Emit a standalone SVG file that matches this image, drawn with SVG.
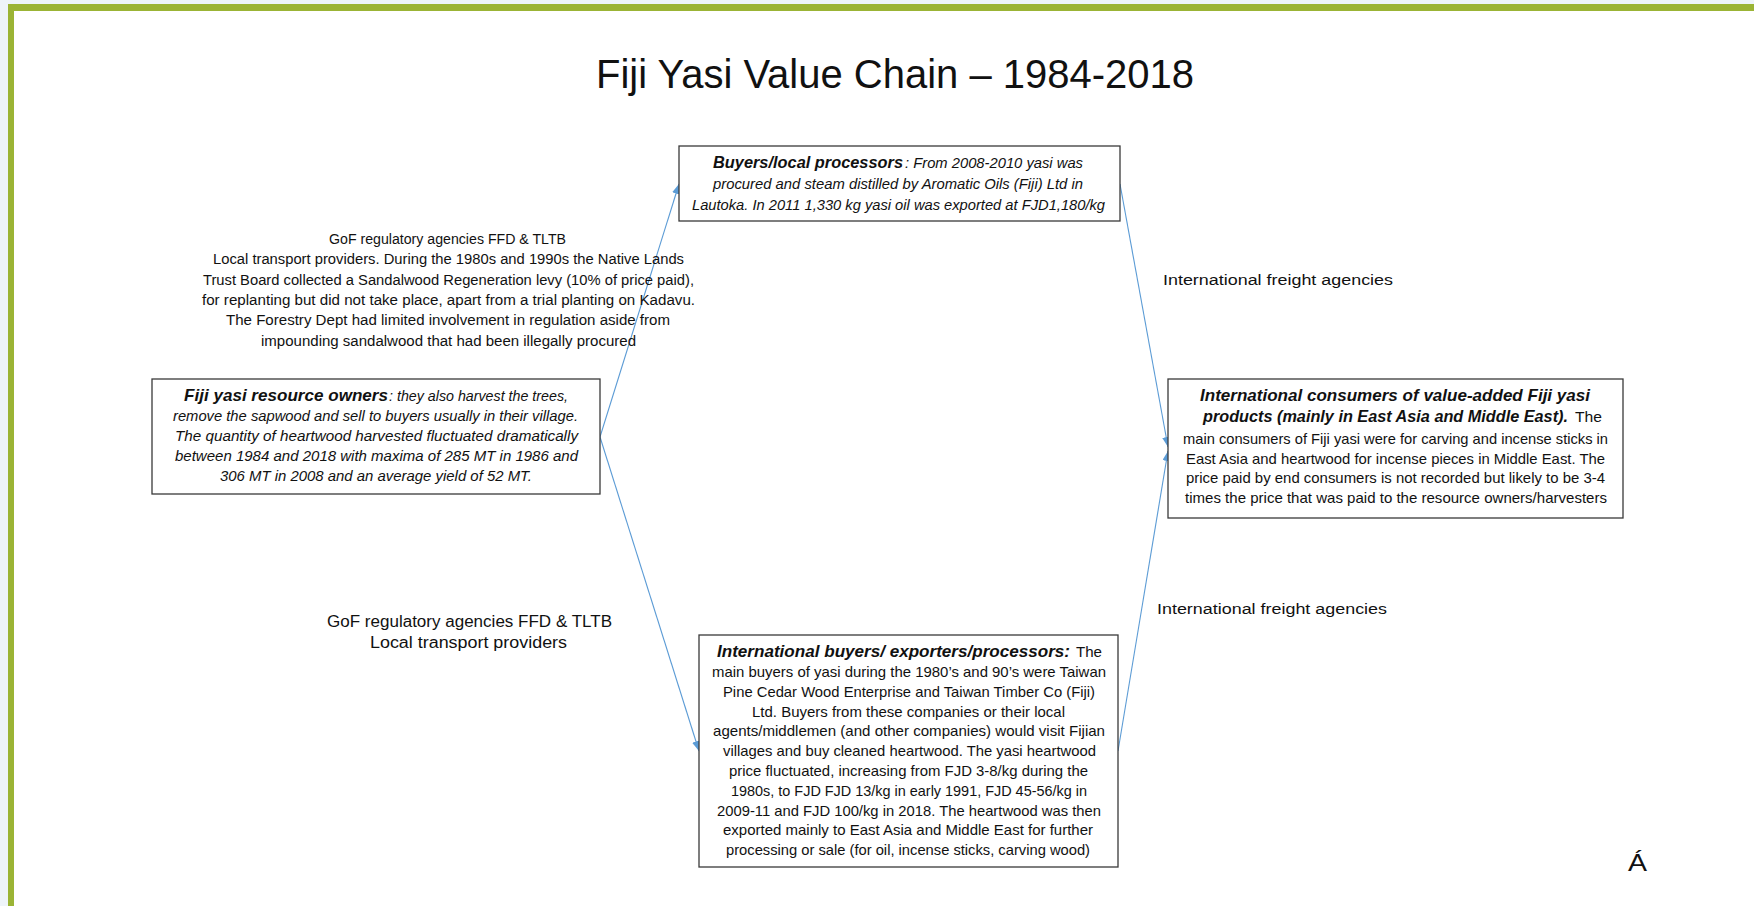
<svg xmlns="http://www.w3.org/2000/svg" width="1754" height="906" viewBox="0 0 1754 906">
<style>
text{font-family:"Liberation Sans",Arial,sans-serif;fill:#111111}
.box{fill:#ffffff;stroke:#3a3a3a;stroke-width:1.3}
.b{font-weight:bold;font-style:italic}
.i{font-style:italic}
.conn{stroke:#5b9bd5;stroke-width:1.1;fill:none;marker-end:url(#ah)}
</style>
<defs>
<marker id="ah" markerUnits="userSpaceOnUse" markerWidth="11" markerHeight="9" refX="10" refY="4" orient="auto">
<path d="M0,0 L10,4 L0,8 z" fill="#5b9bd5"/>
</marker>
</defs>
<rect x="0" y="0" width="1754" height="906" fill="#eef4f9"/>
<rect x="8" y="4" width="1746" height="902" fill="#ffffff"/>
<rect x="8" y="4" width="1746" height="7" fill="#9bb435"/>
<rect x="8" y="4" width="6" height="902" fill="#9bb435"/>

<g id="title">
<text x="596" y="88" font-size="41" textLength="598" lengthAdjust="spacingAndGlyphs">Fiji Yasi Value Chain – 1984-2018</text>
</g>

<g id="connectors">
<line class="conn" x1="600" y1="437" x2="679" y2="184"/>
<line class="conn" x1="600" y1="437" x2="699" y2="751"/>
<line class="conn" x1="1120" y1="184" x2="1168" y2="447"/>
<line class="conn" x1="1118" y1="751" x2="1168" y2="451"/>
</g>

<g id="node-buyers-local">
<rect class="box" x="679" y="146" width="441" height="75"/>
<text class="b" x="713" y="168" font-size="16.5" textLength="190" lengthAdjust="spacingAndGlyphs">Buyers/local processors</text>
<text class="i" x="905" y="168" font-size="14" textLength="178" lengthAdjust="spacingAndGlyphs">: From 2008-2010 yasi was</text>
<text class="i" x="713" y="189" font-size="14" textLength="370" lengthAdjust="spacingAndGlyphs">procured and steam distilled by Aromatic Oils (Fiji) Ltd in</text>
<text class="i" x="692" y="210" font-size="14" textLength="413" lengthAdjust="spacingAndGlyphs">Lautoka. In 2011 1,330 kg yasi oil was exported at FJD1,180/kg</text>
</g>

<g id="label-gof-top">
<text x="329" y="244" font-size="14" textLength="237" lengthAdjust="spacingAndGlyphs">GoF regulatory agencies FFD &amp; TLTB</text>
<text x="213" y="264.3" font-size="14" textLength="471" lengthAdjust="spacingAndGlyphs">Local transport providers. During the 1980s and 1990s the Native Lands</text>
<text x="203" y="284.6" font-size="14" textLength="491" lengthAdjust="spacingAndGlyphs">Trust Board collected a Sandalwood Regeneration levy (10% of price paid),</text>
<text x="202" y="304.9" font-size="14" textLength="493" lengthAdjust="spacingAndGlyphs">for replanting but did not take place, apart from a trial planting on Kadavu.</text>
<text x="226" y="325.2" font-size="14" textLength="444" lengthAdjust="spacingAndGlyphs">The Forestry Dept had limited involvement in regulation aside from</text>
<text x="261" y="345.5" font-size="14" textLength="375" lengthAdjust="spacingAndGlyphs">impounding sandalwood that had been illegally procured</text>
</g>

<g id="node-resource-owners">
<rect class="box" x="152" y="379" width="448" height="115"/>
<text class="b" x="184" y="401" font-size="16.5" textLength="204" lengthAdjust="spacingAndGlyphs">Fiji yasi resource owners</text>
<text class="i" x="389" y="401" font-size="14" textLength="179" lengthAdjust="spacingAndGlyphs">: they also harvest the trees,</text>
<text class="i" x="173" y="421" font-size="14" textLength="405" lengthAdjust="spacingAndGlyphs">remove the sapwood and sell to buyers usually in their village.</text>
<text class="i" x="175" y="441" font-size="14" textLength="403" lengthAdjust="spacingAndGlyphs">The quantity of heartwood harvested fluctuated dramatically</text>
<text class="i" x="175" y="461" font-size="14" textLength="403" lengthAdjust="spacingAndGlyphs">between 1984 and 2018 with maxima of 285 MT in 1986 and</text>
<text class="i" x="220" y="481" font-size="14" textLength="312" lengthAdjust="spacingAndGlyphs">306 MT in 2008 and an average yield of 52 MT.</text>
</g>

<g id="label-freight-top">
<text x="1163" y="285" font-size="15.5" textLength="230" lengthAdjust="spacingAndGlyphs">International freight agencies</text>
</g>

<g id="node-intl-consumers">
<rect class="box" x="1168" y="379" width="455" height="139"/>
<text class="b" x="1200" y="401" font-size="16.5" textLength="390" lengthAdjust="spacingAndGlyphs">International consumers of value-added Fiji yasi</text>
<text class="b" x="1203" y="422" font-size="16.5" textLength="365" lengthAdjust="spacingAndGlyphs">products (mainly in East Asia and Middle East).</text>
<text x="1575" y="422" font-size="15" textLength="27" lengthAdjust="spacingAndGlyphs">The</text>
<text x="1183" y="444" font-size="15" textLength="425" lengthAdjust="spacingAndGlyphs">main consumers of Fiji yasi were for carving and incense sticks in</text>
<text x="1186" y="464" font-size="15" textLength="419" lengthAdjust="spacingAndGlyphs">East Asia and heartwood for incense pieces in Middle East.  The</text>
<text x="1186" y="483" font-size="15" textLength="419" lengthAdjust="spacingAndGlyphs">price paid by end consumers is not recorded but likely to be 3-4</text>
<text x="1185" y="503" font-size="15" textLength="422" lengthAdjust="spacingAndGlyphs">times the price that was paid to the resource owners/harvesters</text>
</g>

<g id="label-gof-bottom">
<text x="327" y="627" font-size="16" textLength="285" lengthAdjust="spacingAndGlyphs">GoF regulatory agencies FFD &amp; TLTB</text>
<text x="370" y="648" font-size="16" textLength="197" lengthAdjust="spacingAndGlyphs">Local transport providers</text>
</g>

<g id="label-freight-bottom">
<text x="1157" y="614" font-size="15.5" textLength="230" lengthAdjust="spacingAndGlyphs">International freight agencies</text>
</g>

<g id="node-intl-buyers">
<rect class="box" x="699" y="635" width="419" height="232"/>
<text class="b" x="717" y="657" font-size="17" textLength="353" lengthAdjust="spacingAndGlyphs">International buyers/ exporters/processors:</text>
<text x="1076" y="657" font-size="15" textLength="26" lengthAdjust="spacingAndGlyphs">The</text>
<text x="712" y="677" font-size="15" textLength="394" lengthAdjust="spacingAndGlyphs">main buyers of yasi during the 1980’s and 90’s were Taiwan</text>
<text x="723" y="697" font-size="15" textLength="372" lengthAdjust="spacingAndGlyphs">Pine Cedar Wood Enterprise and Taiwan Timber Co (Fiji)</text>
<text x="752" y="717" font-size="15" textLength="313" lengthAdjust="spacingAndGlyphs">Ltd. Buyers from these companies or their local</text>
<text x="713" y="736" font-size="15" textLength="392" lengthAdjust="spacingAndGlyphs">agents/middlemen (and other companies) would visit Fijian</text>
<text x="723" y="756" font-size="15" textLength="373" lengthAdjust="spacingAndGlyphs">villages and buy cleaned heartwood. The yasi heartwood</text>
<text x="729" y="776" font-size="15" textLength="359" lengthAdjust="spacingAndGlyphs">price fluctuated, increasing from FJD 3-8/kg during the</text>
<text x="731" y="796" font-size="15" textLength="356" lengthAdjust="spacingAndGlyphs">1980s, to FJD FJD 13/kg in early 1991, FJD 45-56/kg in</text>
<text x="717" y="816" font-size="15" textLength="384" lengthAdjust="spacingAndGlyphs">2009-11 and FJD 100/kg in 2018. The heartwood was then</text>
<text x="723" y="835" font-size="15" textLength="370" lengthAdjust="spacingAndGlyphs">exported mainly to East Asia and Middle East for further</text>
<text x="726" y="855" font-size="15" textLength="364" lengthAdjust="spacingAndGlyphs">processing or sale (for oil, incense sticks, carving wood)</text>
</g>

<g id="mark">
<text x="1628" y="871" font-size="24" textLength="19" lengthAdjust="spacingAndGlyphs">Á</text>
</g>
</svg>
